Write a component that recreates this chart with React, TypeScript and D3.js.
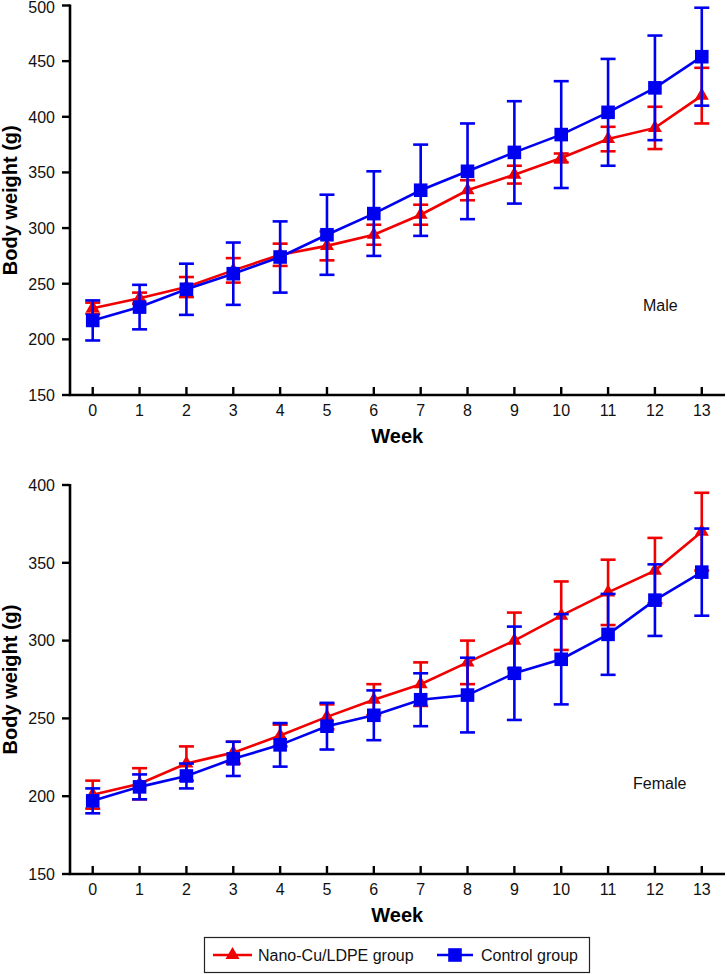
import * as d3 from "d3";

const weeks = [0, 1, 2, 3, 4, 5, 6, 7, 8, 9, 10, 11, 12, 13];

const maleNanoMean = [228, 237, 247, 262, 276, 284, 294, 312, 334, 348, 363, 380, 390, 419];
const maleNanoSd = [5, 5, 9, 11, 10, 13, 9, 9, 9, 8, 4, 11, 19, 25];
const maleCtrlMean = [217, 229, 245, 259, 274, 294, 313, 334, 351, 368, 384, 404, 426, 454];
const maleCtrlSd = [18, 20, 23, 28, 32, 36, 38, 41, 43, 46, 48, 48, 47, 44];

const femaleNanoMean = [201, 208, 221, 228, 239, 251, 262, 272, 286, 300, 316, 331, 345, 370];
const femaleNanoSd = [9, 10, 11, 7, 7, 8, 10, 14, 14, 18, 22, 21, 21, 25];
const femaleCtrlMean = [197, 206, 213, 224, 233, 245, 252, 262, 265, 279, 288, 304, 326, 344];
const femaleCtrlSd = [8, 8, 8, 11, 14, 15, 16, 17, 24, 30, 29, 26, 23, 28];

const maleTicks = [150, 200, 250, 300, 350, 400, 450, 500];
const femaleTicks = [150, 200, 250, 300, 350, 400];

const legendLabels = ["Nano-Cu/LDPE group", "Control group"];

const width = 727;
const height = 974;
const red = "#f00000";
const blue = "#0000f0";
const font = "'Liberation Sans', Arial, sans-serif";

const xScale = d3.scaleLinear().domain([-0.5, 13.5]).range([69.3, 725.2]);
const triangle = d3.symbol(d3.symbolTriangle, 85)() ?? "";
const square = d3.symbol(d3.symbolSquare, 185)() ?? "";

interface SeriesProps {
  mean: number[];
  sd: number[];
  y: d3.ScaleLinear<number, number>;
  color: string;
  marker: string;
}

function Series({ mean, sd, y, color, marker }: SeriesProps) {
  const line = d3
    .line<number>()
    .x((_, i) => xScale(weeks[i]))
    .y((d) => y(d));
  return (
    <g>
      {weeks.map((w, i) => {
        const x = xScale(w);
        const hi = y(mean[i] + sd[i]);
        const lo = y(mean[i] - sd[i]);
        return (
          <g key={w} stroke={color} strokeWidth={2.6}>
            <line x1={x} x2={x} y1={hi} y2={lo} />
            <line x1={x - 7.5} x2={x + 7.5} y1={hi} y2={hi} />
            <line x1={x - 7.5} x2={x + 7.5} y1={lo} y2={lo} />
          </g>
        );
      })}
      <path d={line(mean) ?? ""} fill="none" stroke={color} strokeWidth={2.6} />
      {weeks.map((w, i) => (
        <path key={w} d={marker} transform={`translate(${xScale(w)},${y(mean[i])})`} fill={color} />
      ))}
    </g>
  );
}

interface PanelProps {
  top: number;
  bottom: number;
  ticks: number[];
  nanoMean: number[];
  nanoSd: number[];
  ctrlMean: number[];
  ctrlSd: number[];
  label: string;
  labelX: number;
  labelY: number;
}

function Panel({ top, bottom, ticks, nanoMean, nanoSd, ctrlMean, ctrlSd, label, labelX, labelY }: PanelProps) {
  const y = d3.scaleLinear().domain([ticks[0], ticks[ticks.length - 1]]).range([bottom, top]);
  const axisX = 70;
  return (
    <g fontFamily={font}>
      <line x1={axisX} x2={axisX} y1={top - 1} y2={bottom} stroke="#000" strokeWidth={2.6} />
      <line x1={axisX - 1.3} x2={725} y1={bottom} y2={bottom} stroke="#000" strokeWidth={2.6} />
      {ticks.map((t) => (
        <g key={t}>
          <line x1={axisX - 8} x2={axisX} y1={y(t)} y2={y(t)} stroke="#000" strokeWidth={2.4} />
          <text x={55} y={Math.max(y(t) + 5.8, 13)} textAnchor="end" fontSize={16} fill="#111">
            {t}
          </text>
        </g>
      ))}
      {weeks.map((w) => (
        <g key={w}>
          <line x1={xScale(w)} x2={xScale(w)} y1={bottom - 8} y2={bottom} stroke="#000" strokeWidth={2.4} />
          <text x={xScale(w)} y={bottom + 21} textAnchor="middle" fontSize={16} fill="#111">
            {w}
          </text>
        </g>
      ))}
      <text x={xScale(6.5)} y={bottom + 48} textAnchor="middle" fontSize={20} fontWeight="bold">
        Week
      </text>
      <text
        transform={`translate(17, ${(top + bottom) / 2}) rotate(-90)`}
        textAnchor="middle"
        fontSize={20}
        fontWeight="bold"
      >
        Body weight (g)
      </text>
      <text x={labelX} y={labelY} fontSize={16} fill="#111">
        {label}
      </text>
      <Series mean={nanoMean} sd={nanoSd} y={y} color={red} marker={triangle} />
      <Series mean={ctrlMean} sd={ctrlSd} y={y} color={blue} marker={square} />
    </g>
  );
}

export default function App() {
  return (
    <svg
      width={width}
      height={height}
      viewBox={`0 0 ${width} ${height}`}
      style={{ position: "absolute", left: 0, top: 0, background: "#fff" }}
    >
      <rect width={width} height={height} fill="#fff" />
      <Panel
        top={5.5}
        bottom={395}
        ticks={maleTicks}
        nanoMean={maleNanoMean}
        nanoSd={maleNanoSd}
        ctrlMean={maleCtrlMean}
        ctrlSd={maleCtrlSd}
        label="Male"
        labelX={643}
        labelY={311}
      />
      <Panel
        top={485}
        bottom={874}
        ticks={femaleTicks}
        nanoMean={femaleNanoMean}
        nanoSd={femaleNanoSd}
        ctrlMean={femaleCtrlMean}
        ctrlSd={femaleCtrlSd}
        label="Female"
        labelX={633}
        labelY={789}
      />
      <g fontFamily={font}>
        <rect x={204.5} y={937.5} width={385} height={35} fill="#fff" stroke="#222" strokeWidth={1.2} />
        <line x1={213} x2={252} y1={955} y2={955} stroke={red} strokeWidth={2.6} />
        <path d={triangle} transform="translate(232.5,955)" fill={red} />
        <text x={258} y={961} fontSize={16} fill="#111">
          {legendLabels[0]}
        </text>
        <line x1={437} x2={473} y1={955} y2={955} stroke={blue} strokeWidth={2.6} />
        <path d={square} transform="translate(455,955)" fill={blue} />
        <text x={481} y={961} fontSize={16} fill="#111">
          {legendLabels[1]}
        </text>
      </g>
    </svg>
  );
}
